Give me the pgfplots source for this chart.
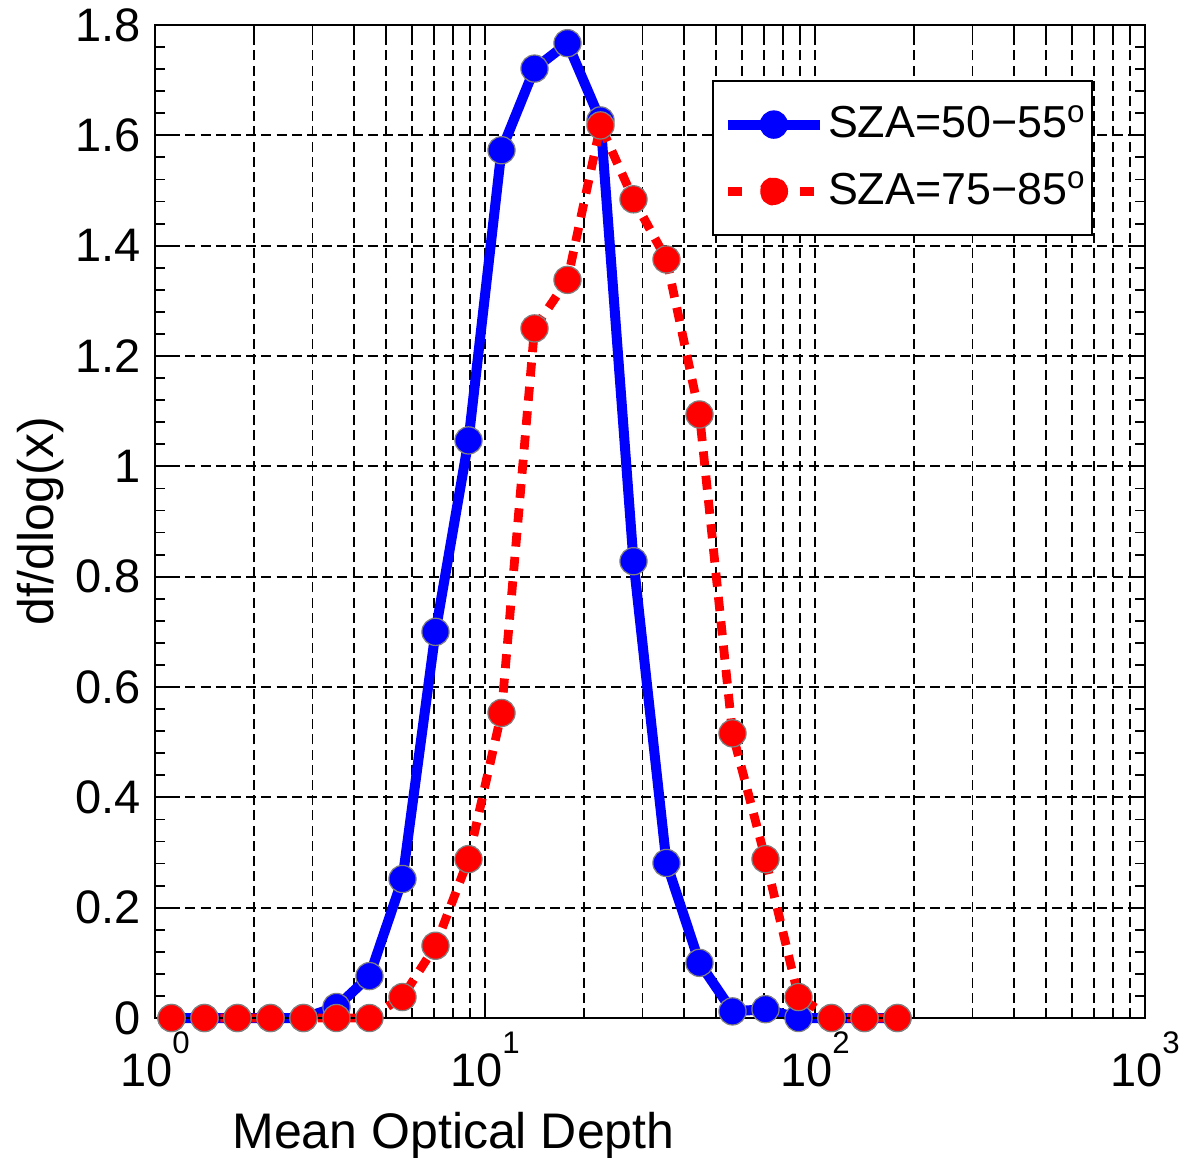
\documentclass[border=0pt]{standalone}
\usepackage{fontspec}
\setmainfont{Liberation Sans}
\usepackage{pgfplots}
\pgfplotsset{compat=1.18}
\newcommand{\tp}[1]{10\raisebox{8.2pt}{\fontsize{7.8}{8}\selectfont #1}}
\begin{document}
\begin{tikzpicture}
\useasboundingbox (-38.75pt,-34.75pt) rectangle (257.25pt,254.5pt);
\begin{axis}[
  at={(0pt,0pt)}, anchor=south west,
  scale only axis, width=247.5pt, height=248.25pt,
  xmode=log, xmin=1, xmax=1000, ymin=0, ymax=1.8,
  xtick={1,10,100,1000}, xticklabels={\tp{0},\tp{1},\tp{2},\tp{3}},
  minor xtick={2,3,4,5,6,7,8,9,20,30,40,50,60,70,80,90,200,300,400,500,600,700,800,900},
  ytick={0,0.2,0.4,0.6,0.8,1,1.2,1.4,1.6,1.8},
  minor y tick num=4,
  xmajorgrids, xminorgrids, ymajorgrids,
  major grid style={black, dash pattern=on 2.5pt off 1.3pt, line width=0.45pt},
  minor grid style={black, dash pattern=on 2.5pt off 1.3pt, line width=0.45pt},
  tick style={black, line width=0.45pt}, major tick length=4pt, minor tick length=2.5pt,
  axis line style={black, line width=0.5pt},
  tick label style={font=\fontsize{11.75}{14}\selectfont},
  /pgf/number format/assume math mode=true,
  label style={font=\fontsize{12.5}{15}\selectfont},
  xlabel={Mean Optical Depth}, ylabel={df/dlog(x)},
  xlabel style={at={(axis description cs:0.3015,-0.131)}, anchor=base},
  ylabel style={at={(axis description cs:-0.116,0.5)}, anchor=center},
  clip=false,
  legend style={at={(1,1)}, anchor=north east, xshift=-13pt, yshift=-13.75pt,
    draw=black, line width=0.6pt, font=\fontsize{11.2}{14}\selectfont,
    inner xsep=0.5pt, inner ysep=4pt, row sep=3pt,
    nodes={inner xsep=0.8pt}},
  legend cell align=left,
]
\addplot[blue, line width=2.5pt, mark=*, mark size=3.4pt,
  mark options={solid, fill=blue, draw=black!50, line width=0.3pt},
  legend image code/.code={\path (-2pt,0pt);
    \draw[blue, line width=2.5pt] (0pt,0pt) -- (23pt,0pt);
    \draw[fill=blue, draw=blue, line width=0.3pt] (11.5pt,0pt) circle (3.4pt);}]
coordinates {
(1.1220,0) (1.4125,0) (1.7783,0) (2.2387,0) (2.8184,0) (3.5481,0.02)
(4.4668,0.076) (5.6234,0.252) (7.0795,0.70) (8.9125,1.047) (11.220,1.573)
(14.125,1.721) (17.783,1.767) (22.387,1.627) (28.184,0.828) (35.481,0.281)
(44.668,0.10) (56.234,0.012) (70.795,0.016) (89.125,0) (112.20,0) (141.25,0) (177.83,0)
};
\addlegendentry{SZA=50\char"2212 55\textsuperscript{o}}
\addplot[red, line width=2.2pt, dash pattern=on 3.5pt off 2.6pt, mark=*, mark size=3.4pt,
  mark options={solid, fill=red, draw=black!50, line width=0.3pt},
  legend image code/.code={\path (-2pt,0pt);
    \draw[red, line width=2.2pt] (0pt,0pt) -- (5pt,0pt) (18pt,0pt) -- (23pt,0pt);
    \draw[fill=red, draw=red, line width=0.3pt] (11.5pt,0pt) circle (3.4pt);}]
coordinates {
(1.1220,0) (1.4125,0) (1.7783,0) (2.2387,0) (2.8184,0) (3.5481,0)
(4.4668,0) (5.6234,0.038) (7.0795,0.131) (8.9125,0.288) (11.220,0.553)
(14.125,1.250) (17.783,1.338) (22.387,1.618) (28.184,1.484) (35.481,1.375)
(44.668,1.094) (56.234,0.516) (70.795,0.288) (89.125,0.038) (112.20,0) (141.25,0) (177.83,0)
};
\addlegendentry{SZA=75\char"2212 85\textsuperscript{o}}
\draw[black, line width=0.5pt] (rel axis cs:0,0) rectangle (rel axis cs:1,1);
\end{axis}
\end{tikzpicture}
\end{document}
